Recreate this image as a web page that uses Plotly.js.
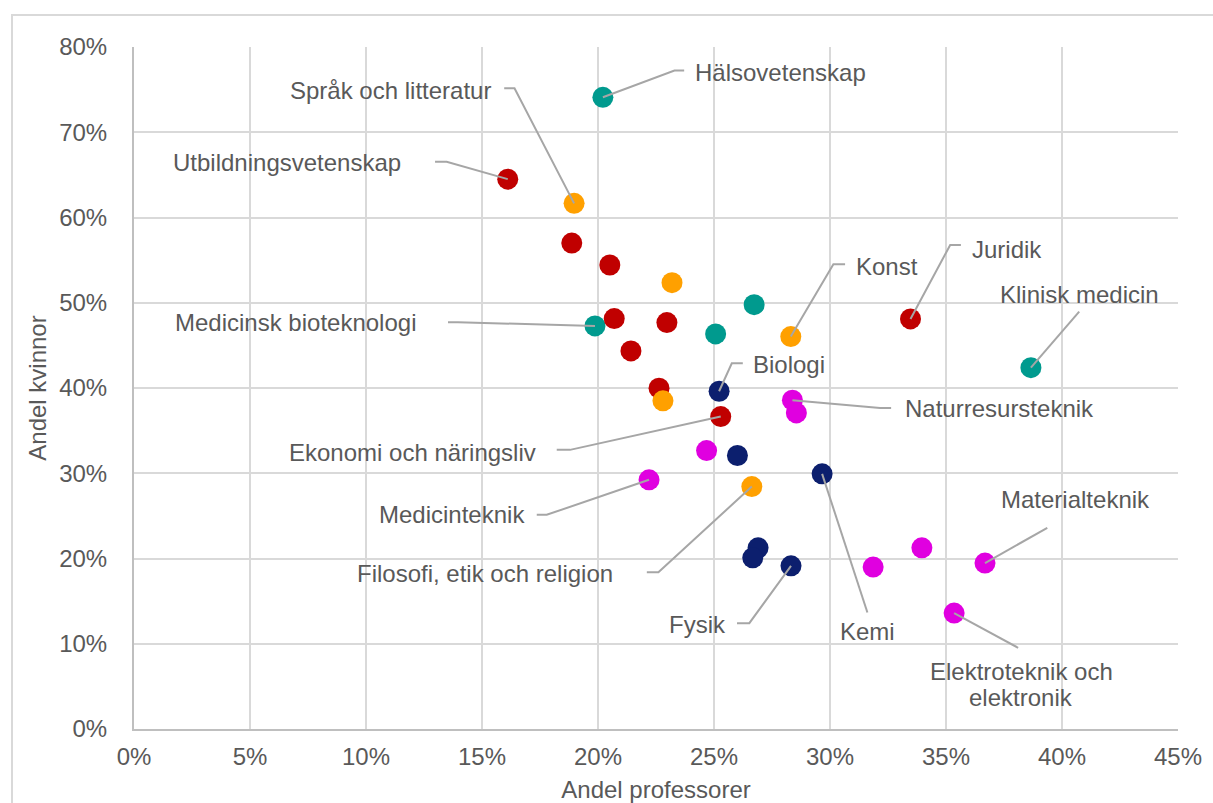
<!DOCTYPE html>
<html>
<head>
<meta charset="utf-8">
<script src="https://cdn.plot.ly/plotly-3.0.1.min.js"></script>
<style>
  html, body { margin: 0; padding: 0; background: #ffffff; }
  #wrap { position: relative; width: 1213px; height: 803px; overflow: hidden; background: #ffffff; }
  #frame { position: absolute; left: 11px; top: 14px; width: 1240px; height: 840px; border: 2px solid #d9d9d9; box-sizing: border-box; }
  #chart { position: absolute; left: 0; top: 0; width: 1213px; height: 803px; }
</style>
</head>
<body>
<div id="wrap"><div id="frame"></div><div id="chart"></div></div>
<script>
// ---- data (percent) ----
const tealX = [20.21, 19.87, 26.73, 25.07, 38.66];
const tealY = [74.10, 47.28, 49.78, 46.34, 42.39];
const tealNames = ['Hälsovetenskap', 'Medicinsk bioteknologi', '', '', 'Klinisk medicin'];

const redX = [16.11, 18.87, 20.51, 20.70, 22.97, 21.42, 22.63, 25.29, 33.47];
const redY = [64.50, 57.00, 54.43, 48.14, 47.67, 44.35, 39.98, 36.65, 48.10];
const redNames = ['Utbildningsvetenskap', '', '', '', '', '', '', 'Ekonomi och näringsliv', 'Juridik'];

const orangeX = [18.97, 23.19, 28.31, 22.80, 26.63];
const orangeY = [61.66, 52.36, 46.03, 38.49, 28.44];
const orangeNames = ['Språk och litteratur', '', 'Konst', '', 'Filosofi, etik och religion'];

const navyX = [25.22, 26.01, 29.66, 26.90, 26.67, 28.32];
const navyY = [39.62, 32.08, 29.93, 21.25, 20.08, 19.14];
const navyNames = ['Biologi', '', 'Kemi', '', '', 'Fysik'];

const magentaX = [28.38, 28.55, 24.68, 22.20, 31.86, 33.96, 36.68, 35.35];
const magentaY = [38.57, 37.08, 32.66, 29.23, 18.99, 21.25, 19.46, 13.60];
const magentaNames = ['Naturresursteknik', '', '', 'Medicinteknik', '', '', 'Materialteknik', 'Elektroteknik och\nelektronik'];

const xTickVals = [0, 5, 10, 15, 20, 25, 30, 35, 40, 45];
const xTickText = ['0%', '5%', '10%', '15%', '20%', '25%', '30%', '35%', '40%', '45%'];
const yTickVals = [0, 10, 20, 30, 40, 50, 60, 70, 80];
const yTickText = ['0%', '10%', '20%', '30%', '40%', '50%', '60%', '70%', '80%'];
const xTitle = 'Andel professorer';
const yTitle = 'Andel kvinnor';

// ---- styling / label placement (pixel offsets from the point, screen y down) ----
const series = [
  {x: tealX, y: tealY, names: tealNames, color: '#009a8e'},
  {x: redX, y: redY, names: redNames, color: '#c00000'},
  {x: orangeX, y: orangeY, names: orangeNames, color: '#ffa000'},
  {x: navyX, y: navyY, names: navyNames, color: '#0c1f6e'},
  {x: magentaX, y: magentaY, names: magentaNames, color: '#e000e0'}
];

const labelPlacement = {
  'Hälsovetenskap': {anchor: 'left', text: [90, -25], path: [[71.6, -26.7], [81.3, -26.7]]},
  'Språk och litteratur': {anchor: 'right', text: [-81, -112.5], path: [[-59.6, -115], [-69.9, -115]]},
  'Utbildningsvetenskap': {anchor: 'right', text: [-105, -17], path: [[-61.1, -17.3], [-72.7, -17.3]]},
  'Medicinsk bioteknologi': {anchor: 'right', text: [-177, -3], path: [[-137, -3.7], [-147, -3.7]]},
  'Ekonomi och näringsliv': {anchor: 'right', text: [-182.7, 36.3], path: [[-150.7, 33.3], [-164, 33.3]]},
  'Medicinteknik': {anchor: 'right', text: [-122, 35], path: [[-102.3, 35], [-112.3, 35]]},
  'Filosofi, etik och religion': {anchor: 'right', text: [-136.7, 87.3], path: [[-93.4, 85.6], [-105, 85.6]]},
  'Fysik': {anchor: 'right', text: [-63, 59], path: [[-41.7, 57.3], [-54, 57.3]]},
  'Kemi': {anchor: 'center', text: [45.5, 157.7], path: [[45.3, 138.7]]},
  'Konst': {anchor: 'left', text: [63.3, -70], path: [[42.6, -72.4], [54.3, -72.4]]},
  'Juridik': {anchor: 'left', text: [59.7, -69.7], path: [[39.7, -74], [50.4, -74]]},
  'Klinisk medicin': {anchor: 'center', text: [48.8, -72.7], path: [[48.3, -56]]},
  'Biologi': {anchor: 'left', text: [31.7, -26.3], path: [[12.7, -28], [23.7, -28]]},
  'Naturresursteknik': {anchor: 'left', text: [110.7, 8], path: [[87.7, 7.7], [98.7, 7.7]]},
  'Materialteknik': {anchor: 'center', text: [90.8, -63.3], path: [[62.3, -35.3]]},
  'Elektroteknik och\nelektronik': {anchor: 'center', text: [67, 71.7], path: [[64, 34.7]]}
};

const W = 1213, H = 803;
const margin = {l: 134, r: 35, t: 47, b: 74, pad: 0};
const xRange = [0, 45], yRange = [0, 80];
const pxPerX = (W - margin.l - margin.r) / (xRange[1] - xRange[0]);
const pxPerY = (H - margin.t - margin.b) / (yRange[1] - yRange[0]);

const FONT = 'Arial, "Liberation Sans", sans-serif';
const TXT = '#595959';

const traces = series.map(s => ({
  type: 'scatter', mode: 'markers', x: s.x, y: s.y, text: s.names,
  hoverinfo: 'x+y+text',
  marker: {size: 21, color: s.color, line: {width: 0}},
  showlegend: false, cliponaxis: false
}));

const annotations = [];
const shapes = [];
series.forEach(s => {
  s.names.forEach((name, i) => {
    if (!name) return;
    const p = labelPlacement[name];
    const px = s.x[i], py = s.y[i];
    const pts = [[px, py]].concat(p.path.map(o => [px + o[0] / pxPerX, py - o[1] / pxPerY]));
    shapes.push({
      type: 'path', xref: 'x', yref: 'y', layer: 'above',
      path: pts.map((q, k) => (k ? 'L' : 'M') + q[0] + ',' + q[1]).join(' '),
      line: {color: '#a6a6a6', width: 2}
    });
    const lines = name.split('\n');
    const lh = 26;
    lines.forEach((ln, k) => {
      const off = (k - (lines.length - 1) / 2) * lh;
      annotations.push({
        x: px, y: py, xref: 'x', yref: 'y', text: ln, showarrow: false,
        xanchor: p.anchor, yanchor: 'middle',
        xshift: p.text[0], yshift: -(p.text[1] + off),
        font: {family: FONT, size: 24, color: TXT}
      });
    });
  });
});

const layout = {
  width: W, height: H, margin: margin,
  paper_bgcolor: 'rgba(0,0,0,0)', plot_bgcolor: '#ffffff',
  font: {family: FONT, size: 24, color: TXT},
  showlegend: false,
  xaxis: {
    range: xRange, tickmode: 'array', tickvals: xTickVals, ticktext: xTickText, showgrid: true,
    gridcolor: '#d9d9d9', gridwidth: 2, zeroline: false,
    showline: true, linecolor: '#bfbfbf', linewidth: 2, ticks: '',
    ticklabelstandoff: 5,
    tickfont: {family: FONT, size: 24, color: TXT},
    title: {text: xTitle, font: {family: FONT, size: 24, color: TXT}, standoff: 17},
    automargin: false, fixedrange: true
  },
  yaxis: {
    range: yRange, tickmode: 'array', tickvals: yTickVals, ticktext: yTickText, showgrid: true,
    gridcolor: '#d9d9d9', gridwidth: 2, zeroline: false,
    showline: true, linecolor: '#bfbfbf', linewidth: 2, ticks: '',
    ticklabelstandoff: 20,
    tickfont: {family: FONT, size: 24, color: TXT},
    title: {text: yTitle, font: {family: FONT, size: 24, color: TXT}, standoff: 6},
    automargin: false, fixedrange: true
  },
  annotations: annotations,
  shapes: shapes
};

Plotly.newPlot('chart', traces, layout, {displayModeBar: false, staticPlot: true});
</script>
</body>
</html>
